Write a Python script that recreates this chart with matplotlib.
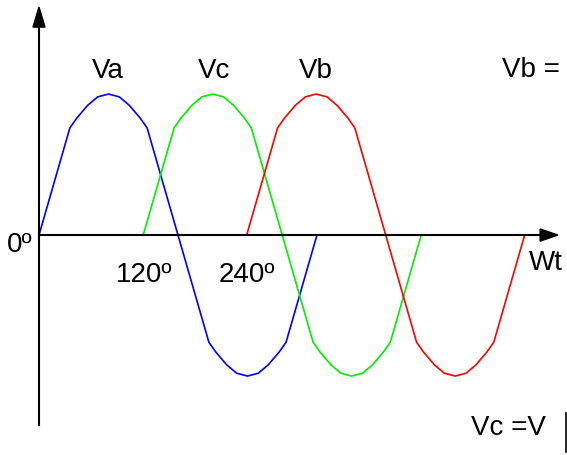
import matplotlib
matplotlib.use("Agg")
import matplotlib.pyplot as plt
from matplotlib.patches import Polygon

plt.rcParams['font.family'] = ['Liberation Sans', 'DejaVu Sans']

# wave points (x in degrees, y relative to peak)
wave_y = [0, 0.76, 0.83, 0.92, 0.98, 1.0, 0.98, 0.92, 0.83, 0.76, 0,
          -0.76, -0.83, -0.92, -0.98, -1.0, -0.98, -0.92, -0.83, -0.76, 0]
va_x = [0, 40, 49, 63, 76, 90, 104, 117, 131, 140, 180,
        220, 229, 243, 256, 270, 284, 297, 311, 320, 360]
vc_x = [135, 175, 184, 198, 211, 225, 239, 252, 266, 275, 315,
        355, 364, 378, 391, 405, 419, 432, 446, 455, 495]
vb_x = [269, 309, 318, 332, 345, 359, 373, 386, 400, 409, 449,
        489, 498, 512, 525, 539, 553, 566, 580, 589, 629]

fig = plt.figure(figsize=(5.67, 4.55), dpi=100)
ax = fig.add_axes([0, 0, 1, 1])
ax.set_xlim(-50.5, 683.8)
ax.set_ylim(-1.560, 1.667)
ax.axis('off')

ax.plot(va_x, wave_y, color='#0000ff', lw=1.2, solid_joinstyle='round')
ax.plot(vc_x, wave_y, color='#00ee00', lw=1.2, solid_joinstyle='round')
ax.plot(vb_x, wave_y, color='#ff0000', lw=1.2, solid_joinstyle='round')

# axes with arrow heads
ax.plot([0, 655], [0, 0], color='black', lw=1.5)
ax.plot([0, 0], [-1.348, 1.48], color='black', lw=1.5)
ax.add_patch(Polygon([[649, 0.043], [672, 0], [649, -0.043]], closed=True, color='black'))
ax.add_patch(Polygon([[-7.8, 1.475], [0, 1.617], [7.8, 1.475]], closed=True, color='black'))

fs = 20
ax.text(89, 1.113, 'Va', fontsize=fs, ha='center', va='baseline')
ax.text(227, 1.113, 'Vc', fontsize=fs, ha='center', va='baseline')
ax.text(359, 1.113, 'Vb', fontsize=fs, ha='center', va='baseline')
ax.text(600, 1.12, 'Vb = V', fontsize=fs, ha='left', va='baseline')
ax.text(560, -1.418, 'Vc =V', fontsize=fs, ha='left', va='baseline')
ax.text(-41, -0.12, '0º', fontsize=fs, ha='left', va='baseline')
ax.text(100, -0.333, '120º', fontsize=fs, ha='left', va='baseline')
ax.text(233, -0.333, '240º', fontsize=fs, ha='left', va='baseline')
ax.text(635, -0.248, 'Wt', fontsize=fs, ha='left', va='baseline')

# bar cut at the right edge
ax.plot([682, 682], [-1.26, -1.54], color='black', lw=1.2)

fig.savefig('out.png', dpi=100)
